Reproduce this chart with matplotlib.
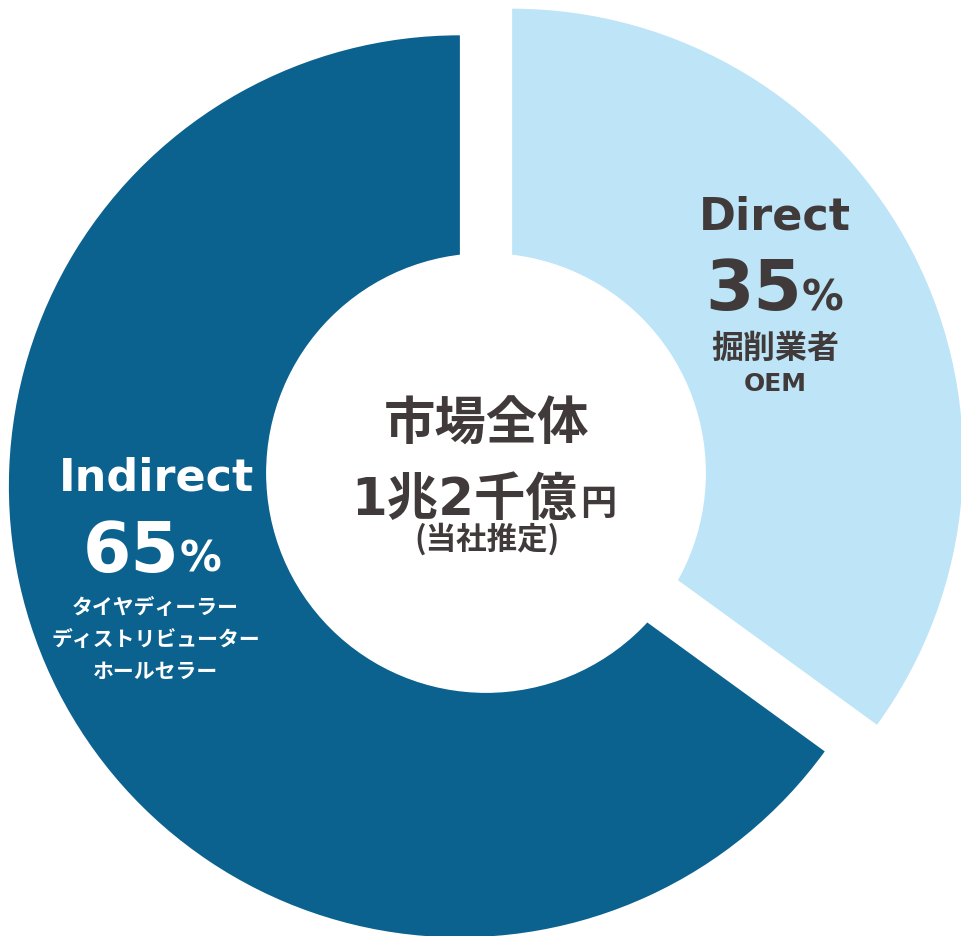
import matplotlib
matplotlib.use("Agg")
from matplotlib import pyplot as plt

# market share by channel
labels = ["Direct", "Indirect"]
shares = [35, 65]
sub_direct = ["掘削業者", "OEM"]
sub_indirect = ["タイヤディーラー", "ディストリビューター", "ホールセラー"]
center_title = "市場全体"
center_amount = "1兆2千億"
center_unit = "円"
center_note = "(当社推定)"

light = "#BEE4F7"
dark = "#0C628F"
txt = "#403B3A"

latin = ["DejaVu Sans", "Noto Sans CJK JP"]
cjk = ["Noto Sans CJK JP", "DejaVu Sans"]

fig = plt.figure(figsize=(9.62, 9.37), dpi=100)
ax = fig.add_axes([0, 0, 1, 1])

ax.pie(shares, colors=[light, dark], startangle=90, counterclock=False,
       explode=[0.065, 0.065], radius=1.0,
       wedgeprops=dict(linewidth=0))
ax.add_patch(plt.Circle((0, 0), 0.486, color="white", zorder=3))

ax.set_xlim(-1.0776, 1.0554)
ax.set_ylim(-1.0266, 1.051)
ax.set_aspect("auto")
ax.axis("off")

# Direct label
ax.text(0.641, 0.570, labels[0], ha="center", va="center", fontsize=32,
        fontweight="bold", color=txt, family=latin, zorder=5)
ax.text(0.700, 0.3636, str(shares[0]), ha="right", va="baseline", fontsize=50,
        fontweight="bold", color=txt, family=latin, zorder=5)
ax.text(0.700, 0.3636, "%", ha="left", va="baseline", fontsize=30,
        fontweight="bold", color=txt, family=latin, zorder=5)
ax.text(0.641, 0.277, sub_direct[0], ha="center", va="center", fontsize=23,
        fontweight="bold", color=txt, family=cjk, zorder=5)
ax.text(0.641, 0.200, sub_direct[1], ha="center", va="center", fontsize=18,
        fontweight="bold", color=txt, family=latin, zorder=5)

# Indirect label
ax.text(-0.7295, -0.009, labels[1], ha="center", va="center", fontsize=32,
        fontweight="bold", color="white", family=latin, zorder=5)
ax.text(-0.679, -0.217, str(shares[1]), ha="right", va="baseline", fontsize=50,
        fontweight="bold", color="white", family=latin, zorder=5)
ax.text(-0.679, -0.217, "%", ha="left", va="baseline", fontsize=30,
        fontweight="bold", color="white", family=latin, zorder=5)
for s, y in zip(sub_indirect, [-0.297, -0.368, -0.437]):
    ax.text(-0.733, y, s, ha="center", va="center", fontsize=15,
            fontweight="bold", color="white", family=cjk, zorder=5)

# centre
ax.text(0.002, 0.111, center_title, ha="center", va="center", fontsize=37,
        fontweight="bold", color=txt, family=cjk, zorder=5)
ax.text(0.202, -0.091, center_amount, ha="right", va="baseline", fontsize=37,
        fontweight="bold", color=txt, family=latin, zorder=5)
ax.text(0.208, -0.091, center_unit, ha="left", va="baseline", fontsize=26,
        fontweight="bold", color=txt, family=cjk, zorder=5)
ax.text(0.002, -0.146, center_note, ha="center", va="center", fontsize=22,
        fontweight="bold", color=txt, family=cjk, zorder=5)

fig.savefig("out.png", dpi=100)
